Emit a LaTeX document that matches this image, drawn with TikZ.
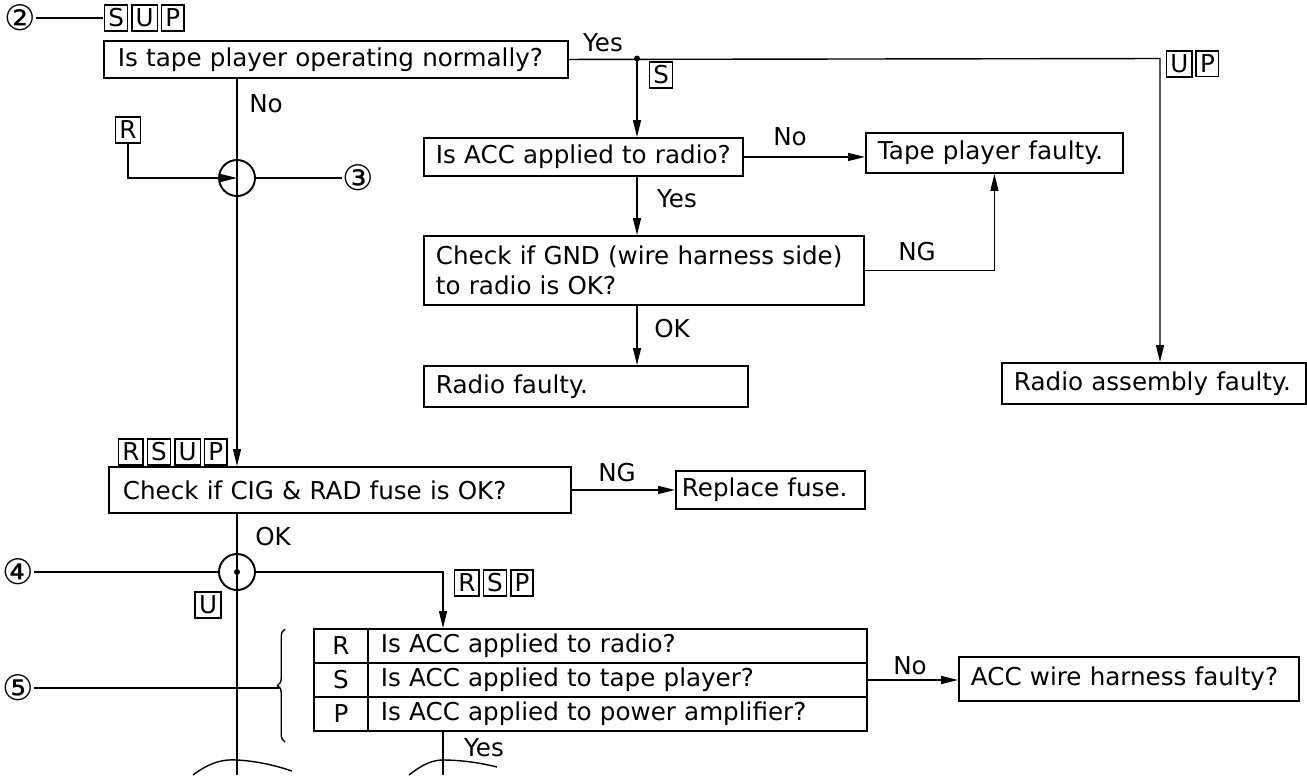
\documentclass[tikz,border=0pt]{standalone}
\usepackage{fontspec}
\setmainfont{DejaVu Sans}
\usetikzlibrary{arrows.meta, decorations.pathreplacing}
\newcommand{\tg}[1]{{\setlength{\fboxsep}{1.7pt}\setlength{\fboxrule}{0.9pt}\fbox{#1}}}

\begin{document}
\begin{tikzpicture}[
  x=0.02cm, y=-0.02cm,
  >={Triangle[length=3.4mm,width=1.6mm]},
  every node/.style={font=\fontsize{14}{17}\selectfont},
  line width=0.8pt,
  box/.style={draw, line width=1.1pt, anchor=north west, align=left,
              inner xsep=0.24cm, inner ysep=0pt},
  cell/.style={draw, line width=1.1pt, anchor=north west, inner sep=0pt,
               minimum height=0.68cm},
  qcell/.style={cell, text width=9.46cm, inner xsep=0.26cm, align=left},
  tag/.style={inner sep=0pt},
  num/.style={inner sep=0pt, font=\fontsize{20}{20}\selectfont},
  lbl/.style={inner sep=1pt},
  hub/.style={draw, circle, line width=1.1pt, minimum size=0.72cm, inner sep=0pt},
  dot/.style={fill, circle, inner sep=0pt, minimum size=1.2mm},
]
\useasboundingbox (0,0) rectangle (1307,775);

% question and result boxes
\node[box, inner xsep=0.28cm, text width=8.72cm, minimum height=0.74cm] (q1) at (103,40) {Is tape player operating normally?};
\node[box, text width=5.9cm, minimum height=0.76cm] (q2) at (423,137) {Is ACC applied to radio?};
\node[box, text width=4.66cm, minimum height=0.80cm] (tpf) at (865,132) {Tape player faulty.};
\node[box, text width=8.32cm, minimum height=1.38cm] (q3) at (423,235) {Check if GND (wire harness side)\\to radio is OK?};
\node[box, text width=6.0cm, minimum height=0.82cm] (rf) at (423,365) {Radio faulty.};
\node[box, text width=5.6cm, minimum height=0.82cm] (raf) at (1001,362) {Radio assembly faulty.};
\node[box, inner xsep=0.28cm, text width=8.68cm, minimum height=0.92cm] (q4) at (108,466) {Check if CIG \& RAD fuse is OK?};
\node[box, inner xsep=0.12cm, text width=3.54cm, minimum height=0.76cm] (fuse) at (675,470) {Replace fuse.};
\node[box, text width=6.32cm, minimum height=0.88cm] (acc) at (958,656) {ACC wire harness faulty?};

% ACC table
\node[cell, minimum width=1.08cm] (cR) at (313,628) {R};
\node[qcell] (qR) at (367,628) {Is ACC applied to radio?};
\node[cell, minimum width=1.08cm] (cS) at (313,662) {S};
\node[qcell] (qS) at (367,662) {Is ACC applied to tape player?};
\node[cell, minimum width=1.08cm] (cP) at (313,696) {P};
\node[qcell] (qP) at (367,696) {Is ACC applied to power amplifier?};

% tags and circled numbers
\node[tag, anchor=west] (tSUP) at (103,18) {\tg{S}\kern1.5pt\tg{U}\kern1.5pt\tg{P}};
\node[tag, anchor=west] (tS) at (648,75) {\tg{S}};
\node[tag, anchor=west] (tUP) at (1165,64) {\tg{U}\kern1.5pt\tg{P}};
\node[tag] (tR) at (128,130) {\tg{R}};
\node[tag, anchor=west] (tRSUP) at (117,452) {\tg{R}\kern1.5pt\tg{S}\kern1.5pt\tg{U}\kern1.5pt\tg{P}};
\node[tag] (tU) at (208,605) {\tg{U}};
\node[tag, anchor=west] (tRSP) at (453,583) {\tg{R}\kern1.5pt\tg{S}\kern1.5pt\tg{P}};
\node[num] (c2) at (20,18) {②};
\node[num] (c3) at (358,178) {③};
\node[num] (c4) at (18,572) {④};
\node[num] (c5) at (18,688) {⑤};

% junctions
\node[hub] (m1) at (237,178) {};
\node[hub] (m2) at (237,572) {};
\node[dot] (d2) at (m2) {};
\coordinate (jy) at (637,58.5);
\node[dot] (d1) at (jy) {};
\coordinate (cup) at (1160,58.5);
\coordinate (jr) at (443,572);
\coordinate (bt) at (279,688);
\coordinate (end1) at (237,775);
\coordinate (end2) at (443,775);

% branch labels
\node[lbl] (lYes1) at (603,43) {Yes};
\node[lbl] (lNo1) at (266,104) {No};
\node[lbl] (lNo2) at (790,137) {No};
\node[lbl] (lYes2) at (677,199) {Yes};
\node[lbl] (lNG1) at (917,252) {NG};
\node[lbl] (lOK1) at (672,329) {OK};
\node[lbl] (lNG2) at (617,473) {NG};
\node[lbl] (lOK2) at (273,537) {OK};
\node[lbl] (lNo3) at (910,666) {No};
\node[lbl] (lYes3) at (484,748) {Yes};

% connectors
\draw (c2) -- (tSUP.west);
\draw[->] (q1.east) -- (cup) -- (cup |- raf.north);
\draw[->] (jy) -- (jy |- q2.north);
\draw[->] (q2.east) -- (q2.east -| tpf.west);
\draw[->] (jy |- q2.south) -- (jy |- q3.north);
\draw[->] (q3.east) -| (tpf.south);
\draw[->] (jy |- q3.south) -- (jy |- rf.north);
\draw[->] (m1 |- q1.south) -- (m1 |- q4.north);
\draw[->] (tR.south) |- (m1.center);
\draw (m1.east) -- (c3.west);
\draw[->] (q4.east) -- (q4.east -| fuse.west);
\draw (m1 |- q4.south) -- (end1);
\draw (c4.east) -- (m2.west);
\draw[->] (m2.east) -- (jr) -- (jr |- qR.north);
\draw[->] (qS.east) -- (qS.east -| acc.west);
\draw (jr |- qP.south) -- (end2);
\draw (c5.east) -- (bt);
\draw[decorate, decoration={brace, amplitude=0.15cm}] (285,742) -- (285,629);
% break marks
\draw (193,775) .. controls (210,762) and (224,759) .. (237,760)
  .. controls (256,761) and (274,765) .. (292,771);
\draw (409,775) .. controls (424,763) and (434,760) .. (443,760)
  .. controls (462,760) and (481,763) .. (497,767);
\end{tikzpicture}
\end{document}
